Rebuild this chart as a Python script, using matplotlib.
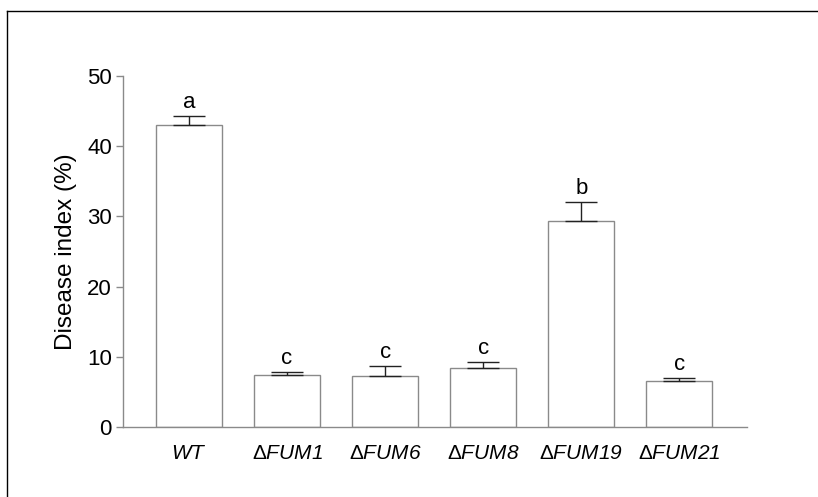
import matplotlib
matplotlib.use("Agg")
import matplotlib.pyplot as plt
from matplotlib.lines import Line2D

plt.rcParams["font.family"] = ["Liberation Sans", "DejaVu Sans"]
# italic strain names (digits included) with an upright delta from the sf slot
plt.rcParams["mathtext.fontset"] = "custom"
plt.rcParams["mathtext.rm"] = "Liberation Sans:italic"
plt.rcParams["mathtext.it"] = "Liberation Sans:italic"
plt.rcParams["mathtext.sf"] = "Liberation Sans"

strains = ["WT", "FUM1", "FUM6", "FUM8", "FUM19", "FUM21"]
disease_index = [43.0, 7.35, 7.3, 8.35, 29.3, 6.5]
sem = [1.35, 0.5, 1.4, 0.85, 2.75, 0.5]
groups = ["a", "c", "c", "c", "b", "c"]

tick_labels = [r"$\mathrm{WT}$"] + ["$\\mathsf{\u0394}\\mathrm{%s}$" % s for s in strains[1:]]

edge = "#8a8a8a"

fig = plt.figure(figsize=(8.18, 4.97), dpi=100)
ax = fig.add_axes([0.1504, 0.1408, 0.7628, 0.7062])

x = range(len(strains))
ax.bar(x, disease_index, width=0.673, color="white", edgecolor=edge, linewidth=1.0, zorder=2)
ax.errorbar(x, disease_index, yerr=[[0] * len(sem), sem], fmt="none",
            ecolor="#222222", elinewidth=1.0, capsize=11.5, capthick=1.0, zorder=3)

for xi, v, e, g in zip(x, disease_index, sem, groups):
    ax.text(xi, v + e + 1.15, g, ha="center", va="baseline", fontsize=16)

ax.set_xlim(-0.673, 5.69)
ax.set_ylim(0, 50)
ax.set_yticks([0, 10, 20, 30, 40, 50])
ax.set_xticks(list(x))
ax.set_xticklabels(tick_labels, fontsize=15)
ax.tick_params(axis="x", length=0, pad=12)
ax.tick_params(axis="y", length=5, width=1.0, color=edge, labelsize=16, pad=3)
ax.set_ylabel("Disease index (%)", fontsize=17.5, labelpad=7)

for side in ("top", "right"):
    ax.spines[side].set_visible(False)
for side in ("left", "bottom"):
    ax.spines[side].set_color(edge)
    ax.spines[side].set_linewidth(1.0)

# outer frame, only top and left edges fall inside the canvas
fw, fh = fig.get_size_inches() * fig.dpi
x0 = 6.5 / fw
y0 = 1 - 10.5 / fh
fig.add_artist(Line2D([x0, 1.0], [y0, y0], transform=fig.transFigure, color="black", linewidth=1.0))
fig.add_artist(Line2D([x0, x0], [y0, 0.0], transform=fig.transFigure, color="black", linewidth=1.0))

fig.savefig("out.png", dpi=100)
